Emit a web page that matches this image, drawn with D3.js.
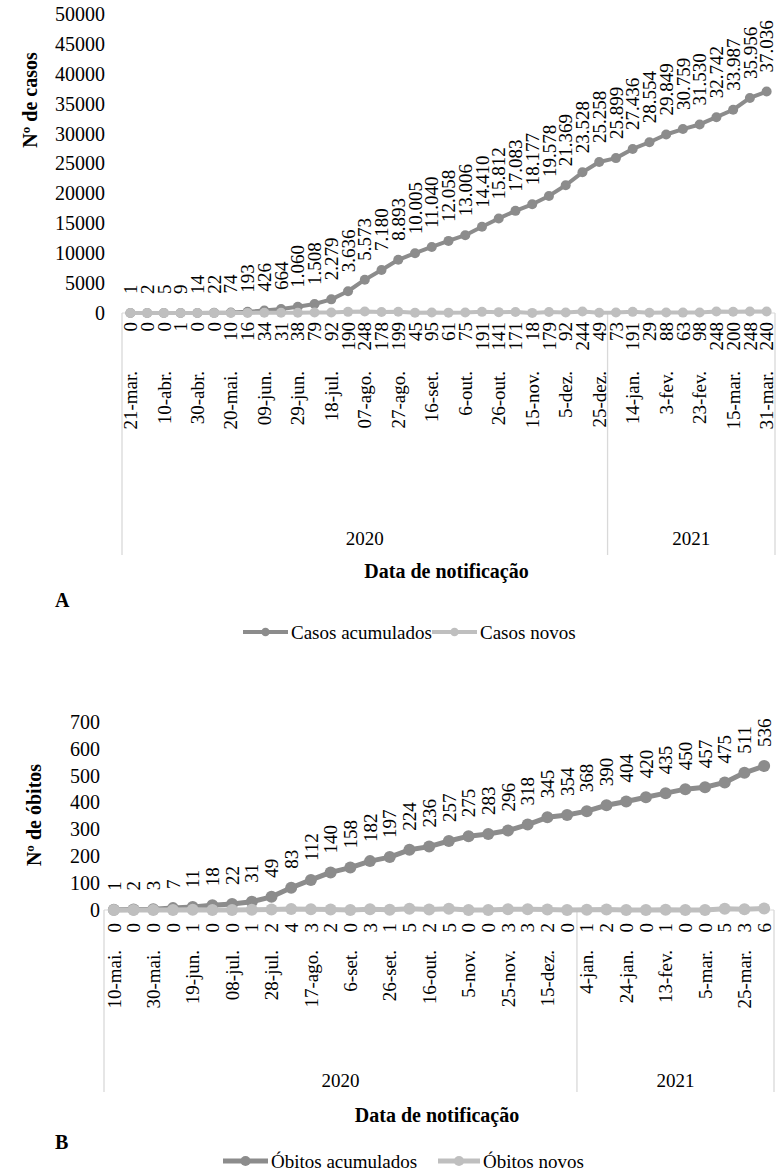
<!DOCTYPE html>
<html><head><meta charset="utf-8">
<script src="https://cdn.jsdelivr.net/npm/d3@7"></script>
<style>
body{margin:0;background:#fff}
text{font-family:"Liberation Serif","Times New Roman",serif;fill:#000}
</style>
</head><body>
<svg id="c" width="778" height="1173"></svg>
<script>
// ---------- DATA ----------
const datesA = ["21-mar.","31-mar.","10-abr.","20-abr.","30-abr.","10-mai.","20-mai.","30-mai.","09-jun.","19-jun.","29-jun.","08-jul.","18-jul.","28-jul.","07-ago.","17-ago.","27-ago.","06-set.","16-set.","26-set.","6-out.","16-out.","26-out.","5-nov.","15-nov.","25-nov.","5-dez.","15-dez.","25-dez.","4-jan.","14-jan.","24-jan.","3-fev.","13-fev.","23-fev.","5-mar.","15-mar.","25-mar.","31-mar."];
const casosAcumulados = [1,2,5,9,14,22,74,193,426,664,1060,1508,2279,3636,5573,7180,8893,10005,11040,12058,13006,14410,15812,17083,18177,19578,21369,23528,25258,25899,27436,28554,29849,30759,31530,32742,33987,35956,37036];
const casosNovos = [0,0,0,1,0,0,10,16,34,31,38,79,92,190,248,178,199,45,95,61,75,191,141,171,18,179,92,244,49,73,191,29,88,63,98,248,200,248,240];
const yearsA = ["2020","2021"];
const yearCountsA = [29,10];
const ticksA = [0,5000,10000,15000,20000,25000,30000,35000,40000,45000,50000];

const datesB = ["10-mai.","20-mai.","30-mai.","09-jun.","19-jun.","29-jun.","08-jul.","18-jul.","28-jul.","07-ago.","17-ago.","27-ago.","6-set.","16-set.","26-set.","6-out.","16-out.","26-out.","5-nov.","15-nov.","25-nov.","5-dez.","15-dez.","25-dez.","4-jan.","14-jan.","24-jan.","3-fev.","13-fev.","23-fev.","5-mar.","15-mar.","25-mar.","31-mar."];
const obitosAcumulados = [1,2,3,7,11,18,22,31,49,83,112,140,158,182,197,224,236,257,275,283,296,318,345,354,368,390,404,420,435,450,457,475,511,536];
const obitosNovos = [0,0,0,0,1,0,0,1,2,4,3,2,0,3,1,5,2,5,0,0,3,3,2,0,1,2,0,0,1,0,0,5,3,6];
const yearsB = ["2020","2021"];
const yearCountsB = [24,10];
const ticksB = [0,100,200,300,400,500,600,700];

const fmtPt = v => v >= 1000 ? d3.format(",")(v).replace(/,/g,".") : String(v);

const svg = d3.select("#c");
const C_ACC = "#8c8c8c", C_NEW = "#bfbfbf", C_AX = "#d9d9d9";

function drawChart(o) {
  const g = svg.append("g");
  const idx = d3.range(o.dates.length);
  const x = d3.scaleBand().domain(idx).range([o.left, o.right]);
  const cx = i => x(i) + x.bandwidth()/2;
  const y = d3.scaleLinear().domain([0, o.yMax]).range([o.yZero, o.yTop]);

  // y axis
  const ya = g.append("g").attr("transform", `translate(${o.tickRight},0)`)
    .call(d3.axisLeft(y).tickValues(o.ticks).tickSize(0).tickPadding(0).tickFormat(d => d));
  ya.select(".domain").remove();
  ya.selectAll("text").style("font-family", '"Liberation Serif",serif').style("font-size", o.tickFs + "px").attr("fill", "#000");

  // y title
  g.append("text").attr("transform", `translate(${o.yTitleX},${o.yTitleY}) rotate(-90)`)
    .attr("text-anchor", "middle").attr("dy", "0.35em")
    .style("font-weight", "bold").style("font-size", o.titleFs + "px").text(o.yTitle);

  // axis line and vertical separators
  g.append("line").attr("x1", o.left).attr("x2", o.right).attr("y1", o.yZero).attr("y2", o.yZero)
    .attr("stroke", C_AX).attr("stroke-width", 1);
  let acc = 0;
  const bounds = [0];
  o.yearCounts.forEach(n => { acc += n; bounds.push(acc); });
  bounds.forEach(b => {
    const xx = b === o.dates.length ? o.right : x(b);
    g.append("line").attr("x1", xx).attr("x2", xx).attr("y1", o.yZero).attr("y2", o.lineBottom)
      .attr("stroke", C_AX).attr("stroke-width", 1.3);
  });
  // year labels
  o.years.forEach((yr, k) => {
    const x0 = x(bounds[k]);
    const x1 = bounds[k+1] === o.dates.length ? o.right : x(bounds[k+1]);
    g.append("text").attr("x", (x0 + x1)/2).attr("y", o.yearY).attr("dy", "0.35em")
      .attr("text-anchor", "middle").style("font-size", o.labelFs + "px").text(yr);
  });

  // date labels via axis
  const xa = g.append("g").attr("transform", `translate(0,${o.dateTop})`)
    .call(d3.axisBottom(x).tickSize(0).tickFormat(i => i % 2 === 0 ? o.dates[i] : ""));
  xa.select(".domain").remove();
  xa.selectAll("text")
    .style("font-family", '"Liberation Serif",serif').style("font-size", o.labelFs + "px").attr("fill", "#000")
    .attr("y", 0).attr("x", 0).attr("dy", "0.35em")
    .attr("transform", "rotate(-90)").attr("text-anchor", "end");

  // x title
  g.append("text").attr("x", (o.left + o.right)/2 - 2).attr("y", o.xTitleY).attr("dy", "0.35em")
    .attr("text-anchor", "middle").style("font-weight", "bold").style("font-size", o.titleFs + "px")
    .text("Data de notificação");
  // panel letter
  g.append("text").attr("x", o.letterX).attr("y", o.letterY).attr("dy", "0.35em")
    .style("font-weight", "bold").style("font-size", o.titleFs + "px").text(o.letter);

  // series
  const line = d3.line().x((d, i) => cx(i)).y(d => y(d));
  const drawSeries = (vals, color) => {
    g.append("path").datum(vals).attr("d", line).attr("fill", "none")
      .attr("stroke", color).attr("stroke-width", o.lw).attr("stroke-linejoin", "round");
    g.selectAll(null).data(vals).enter().append("circle")
      .attr("cx", (d, i) => cx(i)).attr("cy", d => y(d)).attr("r", o.r).attr("fill", color);
  };
  drawSeries(o.acc, C_ACC);
  drawSeries(o.nov, C_NEW);

  // cumulative labels (above)
  g.selectAll(null).data(o.acc).enter().append("text")
    .attr("transform", (d, i) => `translate(${cx(i)},${y(d) - o.gapAbove}) rotate(-90)`)
    .attr("dy", "0.35em").attr("text-anchor", "start").style("font-size", o.labelFs + "px")
    .text(d => fmtPt(d));
  // new labels (below)
  g.selectAll(null).data(o.nov).enter().append("text")
    .attr("transform", (d, i) => `translate(${cx(i)},${o.newTop}) rotate(-90)`)
    .attr("dy", "0.35em").attr("text-anchor", "end").style("font-size", o.labelFs + "px")
    .text(d => fmtPt(d));

  // legend
  o.legend.forEach(it => {
    g.append("line").attr("x1", it.x1).attr("x2", it.x2).attr("y1", o.legendY).attr("y2", o.legendY)
      .attr("stroke", it.c).attr("stroke-width", o.lw);
    g.append("circle").attr("cx", (it.x1 + it.x2)/2).attr("cy", o.legendY).attr("r", o.r * 0.85).attr("fill", it.c);
    g.append("text").attr("x", it.x2 + 3).attr("y", o.legendY).attr("dy", "0.35em")
      .style("font-size", o.legendFs + "px").text(it.t);
  });
}

drawChart({
  dates: datesA, acc: casosAcumulados, nov: casosNovos, years: yearsA, yearCounts: yearCountsA, ticks: ticksA,
  left: 122, right: 775, yTop: 14, yZero: 313, yMax: 50000, tickRight: 105,
  yTitle: "Nº de casos", yTitleX: 30, yTitleY: 100,
  gapAbove: 19, newTop: 322, dateTop: 371, lineBottom: 555, yearY: 538, xTitleY: 571,
  letter: "A", letterX: 55, letterY: 600, legendY: 632,
  tickFs: 20, labelFs: 19, titleFs: 20, legendFs: 19, lw: 4, r: 5,
  legend: [{x1: 243, x2: 288, c: C_ACC, t: "Casos acumulados"}, {x1: 432, x2: 477, c: C_NEW, t: "Casos novos"}]
});

drawChart({
  dates: datesB, acc: obitosAcumulados, nov: obitosNovos, years: yearsB, yearCounts: yearCountsB, ticks: ticksB,
  left: 104, right: 774, yTop: 722, yZero: 910, yMax: 700, tickRight: 100,
  yTitle: "Nº de óbitos", yTitleX: 34, yTitleY: 815,
  gapAbove: 19, newTop: 923, dateTop: 950, lineBottom: 1092, yearY: 1080, xTitleY: 1115,
  letter: "B", letterX: 55, letterY: 1142, legendY: 1161,
  tickFs: 20, labelFs: 19, titleFs: 20, legendFs: 19, lw: 5, r: 6,
  legend: [{x1: 223, x2: 268, c: C_ACC, t: "Óbitos acumulados"}, {x1: 438, x2: 480, c: C_NEW, t: "Óbitos novos"}]
});
</script>
</body></html>
